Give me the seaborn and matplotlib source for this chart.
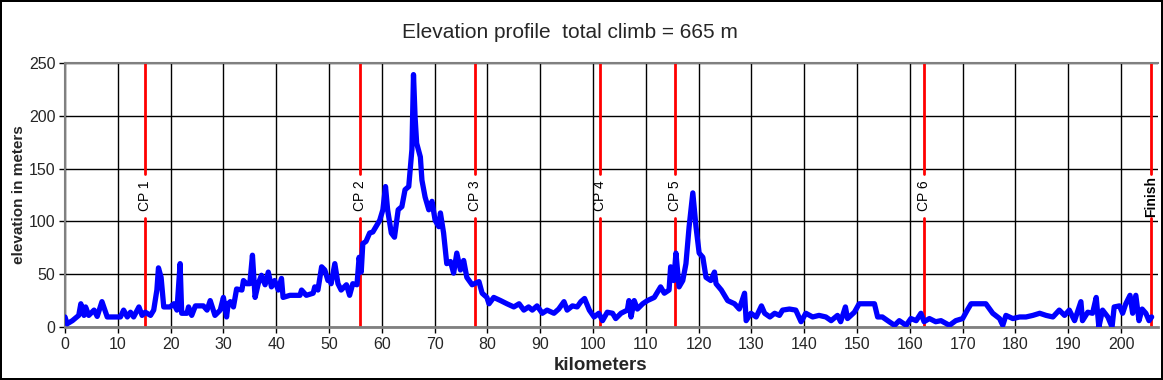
import matplotlib
matplotlib.use("Agg")
import matplotlib.pyplot as plt
import seaborn as sns
import pandas as pd

# ---- data ----
km = [0, 0.4, 1.4, 2.6, 3.0, 3.6, 3.9, 4.5, 5.5, 6.1, 7.0, 8.0, 10.5, 11.1, 11.8, 12.4, 13.0, 14.0, 14.6, 15.2,
      16.2, 16.8, 17.4, 17.7, 18.2, 18.7, 19.9, 20.6, 21.2, 21.8, 22.1, 23.1, 23.4, 24.0, 24.7, 26.2, 26.9, 27.5,
      28.4, 29.4, 30.0, 30.6, 30.9, 31.3, 31.9, 32.5, 33.5, 33.8, 34.4, 35.0, 35.5, 36.0, 36.6, 37.2, 37.9, 38.5,
      39.1, 39.7, 40.4, 41.0, 41.3, 42.6, 44.5, 44.8, 45.7, 47.0, 47.3, 47.9, 48.6, 49.2, 49.8, 50.1, 50.4, 51.1,
      51.7, 52.3, 53.3, 53.9, 54.5, 55.3, 55.7, 56.1, 56.4, 57.0, 57.7, 58.3, 59.6, 60.2, 60.7, 61.1, 61.8, 62.4,
      63.1, 63.8, 64.4, 65.1, 65.7, 66.0, 66.3, 66.6, 67.3, 67.6, 68.2, 68.9, 69.5, 70.1, 70.8, 71.1, 71.7, 72.3,
      73.0, 73.6, 74.2, 74.9, 75.5, 76.1, 77.1, 78.4, 79.0, 79.9, 80.3, 81.2, 82.5, 83.7, 85.0, 86.0, 86.9, 87.8,
      88.5, 89.4, 90.4, 91.3, 92.6, 93.5, 94.5, 95.1, 96.1, 97.0, 97.7, 98.4, 99.3, 100.2, 101.1, 101.8, 102.7,
      103.7, 104.3, 105.3, 106.5, 106.8, 107.2, 107.8, 108.4, 109.4, 110.3, 111.6, 112.8, 113.5, 114.4, 114.7,
      115.3, 115.7, 116.3, 117.0, 117.6, 118.2, 118.9, 119.5, 120.1, 120.8, 121.4, 122.3, 123.0, 123.3, 124.3,
      125.5, 126.8, 127.7, 128.7, 129.0, 129.9, 130.9, 131.9, 132.5, 133.5, 134.4, 135.3, 135.9, 137.2, 138.4,
      139.4, 140.3, 141.6, 142.8, 144.1, 145.1, 146.3, 146.9, 147.8, 148.2, 149.5, 150.4, 153.3, 153.9, 154.8,
      155.8, 157.1, 158.0, 159.3, 160.2, 161.2, 162.1, 162.7, 163.7, 164.9, 165.9, 167.5, 168.7, 170.0, 171.0,
      171.6, 174.4, 175.7, 177.0, 177.6, 178.2, 179.5, 180.8, 182.0, 183.3, 184.6, 185.8, 187.1, 188.3, 189.3,
      190.2, 191.2, 192.4, 192.7, 193.7, 194.6, 195.3, 195.8, 196.5, 197.5, 198.3, 198.7, 199.7, 200.3, 200.9,
      201.7, 202.2, 202.8, 203.4, 204.0, 204.7, 205.3, 205.8]
elevation = [9.5, 3, 6, 11, 22, 11, 19, 11, 16, 10, 24, 9.5, 9.5, 16, 9.5, 14, 9.5, 19, 11, 14,
             11, 16, 35, 56, 47, 19, 19, 22, 16, 60, 13, 13, 19, 11, 20, 20, 16, 25,
             11, 16, 28, 9.5, 22, 24, 19, 36, 35, 44, 41, 41, 68, 28, 41, 49, 40, 52,
             38, 44, 35, 46, 28, 30, 30, 35, 30, 32, 38, 35, 57, 54, 44, 47, 41, 60,
             41, 35, 40, 30, 41, 40, 66, 52, 79, 81, 89, 90, 101, 111, 133, 111, 89, 85,
             111, 114, 130, 133, 168, 239, 199, 174, 161, 139, 123, 111, 119, 101, 95, 108, 89, 60,
             62, 51, 70, 54, 63, 47, 40, 43, 32, 28, 22, 28, 25, 22, 19, 22, 16, 19,
             16, 20, 13, 16, 13, 17, 24, 16, 20, 19, 24, 27, 16, 9.5, 13, 6, 14,
             13, 8, 13, 16, 25, 9.5, 25, 17, 22, 25, 28, 38, 32, 35, 57,
             44, 70, 38, 44, 60, 95, 127, 95, 70, 66, 47, 44, 52, 41, 35,
             25, 22, 17, 32, 6, 13, 9.5, 20, 13, 9.5, 13, 11, 16, 17, 16,
             5, 13, 9.5, 11, 9.5, 6, 11, 5, 19, 8, 14, 22, 22, 9.5, 9.5,
             6, 1.6, 6, 1.6, 8, 6, 13, 5, 8, 5, 6, 1.6, 6, 8, 17,
             22, 22, 13, 8, 1.6, 11, 8, 9.5, 9.5, 11, 13, 11, 9.5, 16, 11,
             16, 6, 24, 6, 14, 13, 28, 0, 16, 9.5, 0, 19, 20, 13, 22,
             30, 13, 30, 6, 17, 13, 6, 9.5]

checkpoints = ["CP 1", "CP 2", "CP 3", "CP 4", "CP 5", "CP 6", "Finish"]
checkpoint_km = [15.2, 55.9, 77.6, 101.4, 115.6, 162.7, 205.7]

x_ticks = list(range(0, 201, 10))
y_ticks = list(range(0, 251, 50))

df = pd.DataFrame({"km": km, "elevation": elevation})

# ---- figure ----
sns.set_style("white")
plt.rcParams["font.family"] = ["Liberation Sans", "DejaVu Sans"]

fig = plt.figure(figsize=(11.63, 3.80), dpi=100, facecolor="white",
                 edgecolor="black", linewidth=1.5)
ax = fig.add_axes([65 / 1163, 1 - 327 / 380, (1158 - 65) / 1163, (327 - 63) / 380])

ax.set_xlim(0, 207)
ax.set_ylim(0, 250)
ax.set_xticks(x_ticks)
ax.set_yticks(y_ticks)
ax.grid(True, color="black", linewidth=1.0)
ax.set_axisbelow(True)

# checkpoint lines with a gap for the label
gap_lo, gap_hi, lab_y = 103, 145, 124
for name, xk in zip(checkpoints, checkpoint_km):
    ax.plot([xk, xk], [0, gap_lo], color="#ff0000", lw=2.0, zorder=2)
    ax.plot([xk, xk], [gap_hi, 250], color="#ff0000", lw=2.0, zorder=2)
    ax.text(xk, lab_y, name, rotation=90, ha="center", va="center",
            fontsize=10, fontweight="bold" if name == "Finish" else "normal",
            color="black", zorder=4)

sns.lineplot(data=df, x="km", y="elevation", ax=ax, color="#0000ff",
             linewidth=3.8, sort=False, estimator=None, zorder=3)

ax.set_xlabel("kilometers", fontsize=13.5, fontweight="bold")
ax.set_ylabel("elevation in meters", fontsize=11, fontweight="bold")
ax.xaxis.set_label_coords(0.49, -0.115)
ax.yaxis.set_label_coords(-0.036, 0.5)
ax.tick_params(axis="both", labelsize=11.5, length=4, width=1, color="black",
               direction="out", pad=3, bottom=True, left=True)

for s in ["top", "bottom", "left"]:
    ax.spines[s].set_visible(True)
    ax.spines[s].set_color("#808080")
ax.spines["top"].set_linewidth(1.5)
ax.spines["bottom"].set_linewidth(2.0)
ax.spines["left"].set_linewidth(1.5)
ax.spines["right"].set_visible(False)

fig.text(0.49, 1 - 33 / 380, "Elevation profile  total climb = 665 m",
         ha="center", va="center", fontsize=15)

fig.savefig("out.png", dpi=100, facecolor="white", edgecolor="black")
